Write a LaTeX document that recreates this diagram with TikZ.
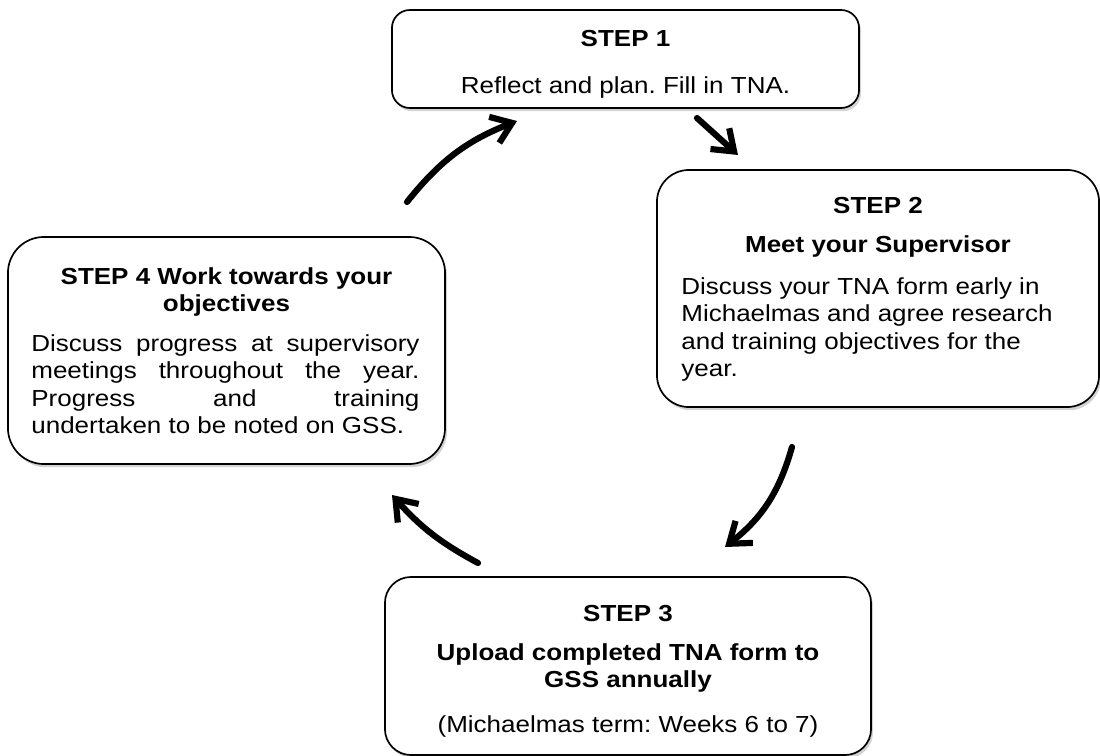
\documentclass[tikz,border=0pt]{standalone}
\usepackage{fontspec}
\setmainfont{Liberation Sans}[FakeStretch=1.12]
\usetikzlibrary{positioning,arrows.meta,shadows}
\frenchspacing

\begin{document}
\begin{tikzpicture}[x=0.025cm,y=-0.025cm,
    stepbox/.style={draw,line width=1.2pt,fill=white,
      drop shadow={shadow xshift=0.5mm,shadow yshift=-0.8mm,opacity=0.35}},
    steptext/.style={inner sep=0pt,align=center,font=\fontsize{16.5}{19.5}\selectfont\frenchspacing},
    cyclearrow/.style={line width=4.4pt,line cap=round,
      -{Straight Barb[length=4.8mm,width=7mm]}}]
    \useasboundingbox (0,0) rectangle (1100,756);

    % Step 1
    \node[stepbox,rounded corners=0.45cm,minimum width=11.675cm,minimum height=2.45cm] (s1) at (625.5,59) {};
    \node[steptext,below=0.525cm of s1.north] (s1t) {\textbf{STEP 1}\\[14pt]Reflect and plan. Fill in TNA.};

    % Step 2
    \node[stepbox,rounded corners=0.8cm,minimum width=11.05cm,minimum height=5.925cm] (s2) at (878,288.5) {};
    \node[steptext,below=0.7cm of s2.north] (s2t) {\textbf{STEP 2}\\[8pt]\textbf{Meet your Supervisor}};
    \node[steptext,align=left,below right=2.7cm and 0.625cm of s2.north west] (s2b)
      {Discuss your TNA form early in\\Michaelmas and agree research\\and training objectives for the\\year.};

    % Step 3
    \node[stepbox,rounded corners=0.65cm,minimum width=12.15cm,minimum height=4.45cm] (s3) at (628,666) {};
    \node[steptext,below=0.725cm of s3.north] (s3t) {\textbf{STEP 3}\\[8pt]\textbf{Upload completed TNA form to}\\
      \textbf{GSS annually}\\[12pt](Michaelmas term: Weeks 6 to 7)};

    % Step 4
    \node[stepbox,rounded corners=0.9cm,minimum width=10.925cm,minimum height=5.675cm] (s4) at (226.5,350.5) {};
    \node[steptext,below=0.775cm of s4.north] (s4t) {\textbf{STEP 4 Work towards your}\\\textbf{objectives}};
    \node[steptext,align=justify,text width=9.7cm,below right=2.45cm and 0.6cm of s4.north west] (s4b)
      {\makebox[\linewidth][s]{Discuss progress at supervisory}\\
       \makebox[\linewidth][s]{meetings throughout the year.}\\
       \makebox[\linewidth][s]{Progress and training}\\
       undertaken to be noted on GSS.};

    % Cycle arrows
    \coordinate (a12s) at (697,118);
    \coordinate (a12e) at (738,155);
    \coordinate (a23s) at (792,447);
    \coordinate (a23e) at (725,547);
    \coordinate (a34s) at (478,563);
    \coordinate (a34e) at (392,495);
    \coordinate (a41s) at (407,202);
    \coordinate (a41e) at (517,121);
    \draw[cyclearrow] (a12s) -- (a12e);
    \draw[cyclearrow] (a23s) to[bend left=18] (a23e);
    \draw[cyclearrow] (a34s) to[bend left=10] (a34e);
    \draw[cyclearrow] (a41s) to[bend left=15] (a41e);
  \end{tikzpicture}
\end{document}
